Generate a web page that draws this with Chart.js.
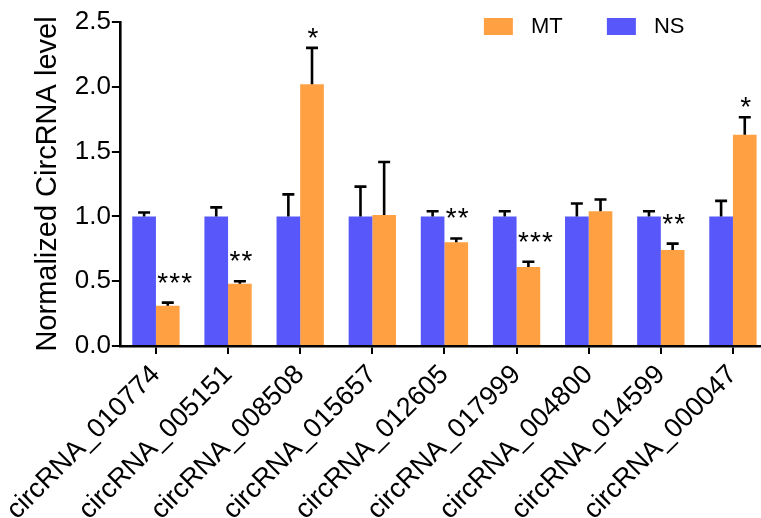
<!DOCTYPE html>
<html>
<head>
<meta charset="utf-8">
<script src="https://cdn.jsdelivr.net/npm/chart.js@4"></script>
<style>
  html, body { margin: 0; padding: 0; overflow: hidden; background: #fff; }
</style>
</head>
<body>
<canvas id="chart" width="770" height="518" style="width:770px;height:518px"></canvas>
<script>
var labels = ["circRNA_010774", "circRNA_005151", "circRNA_008508", "circRNA_015657", "circRNA_012605",
              "circRNA_017999", "circRNA_004800", "circRNA_014599", "circRNA_000047"]
var nsValues = [1.0, 1.0, 1.0, 1.0, 1.0, 1.0, 1.0, 1.0, 1.0]
var nsErrors = [0.03, 0.07, 0.17, 0.23, 0.04, 0.04, 0.10, 0.04, 0.12]
var mtValues = [0.31, 0.48, 2.02, 1.01, 0.80, 0.61, 1.04, 0.74, 1.63]
var mtErrors = [0.025, 0.02, 0.28, 0.41, 0.03, 0.04, 0.09, 0.05, 0.135]
var stars = ["***", "**", "*", "", "**", "***", "", "**", "*"]
var yTicks = [0, 0.5, 1.0, 1.5, 2.0, 2.5]

var font = '"Liberation Sans", Arial, sans-serif'

// error bars (upper only) and significance stars
var errorBars = {
  id: 'errorBars',
  afterDatasetsDraw(chart) {
    var ctx = chart.ctx
    var y = chart.scales.y
    ctx.save()
    ctx.strokeStyle = '#000'
    ctx.lineWidth = 2.6
    chart.data.datasets.forEach(function (ds, i) {
      var meta = chart.getDatasetMeta(i)
      meta.data.forEach(function (bar, j) {
        var top = y.getPixelForValue(ds.data[j] + ds.errors[j])
        ctx.beginPath()
        ctx.moveTo(bar.x, bar.y)
        ctx.lineTo(bar.x, top)
        ctx.moveTo(bar.x - 6, top)
        ctx.lineTo(bar.x + 6, top)
        ctx.stroke()
        if (ds.stars && ds.stars[j]) {
          ctx.fillStyle = '#000'
          ctx.font = '28px ' + font
          ctx.textBaseline = 'alphabetic'
          ctx.textAlign = 'center'
          var n = ds.stars[j].length
          var lift = n == 1 ? 1 : 11
          var shift = n == 3 ? 7 : 1
          for (var k = 0; k < n; k++) {
            ctx.fillText('*', bar.x + shift + (k - (n - 1) / 2) * 12, top - lift)
          }
        }
      })
    })
    ctx.restore()
  }
}

var legendBoxes = {
  id: 'legendBoxes',
  afterDraw(chart) {
    var ctx = chart.ctx
    var area = chart.chartArea
    var x = area.left + 364
    var y = area.top - 4
    ctx.save()
    ctx.font = '22px ' + font
    ctx.textBaseline = 'middle'
    ctx.textAlign = 'left'
    chart.data.datasets.slice().reverse().forEach(function (ds) {
      ctx.fillStyle = ds.backgroundColor
      ctx.fillRect(x, y, 29, 17)
      ctx.fillStyle = '#000'
      ctx.fillText(ds.label, x + 47, y + 9)
      x += 123
    })
    ctx.restore()
  }
}

var ctx = document.getElementById('chart').getContext('2d')

var myChart = new Chart(ctx, {
  type: 'bar',
  data: {
    labels: labels,
    datasets: [
      { label: 'NS', data: nsValues, errors: nsErrors, backgroundColor: '#5757FA' },
      { label: 'MT', data: mtValues, errors: mtErrors, stars: stars, backgroundColor: '#FFA042' }
    ]
  },
  options: {
    responsive: false,
    devicePixelRatio: 1,
    animation: false,
    layout: { padding: { top: 22, right: 1, left: 0, bottom: 0 } },
    datasets: { bar: { categoryPercentage: 0.656, barPercentage: 1.0 } },
    plugins: {
      legend: { display: false },
      tooltip: { enabled: false }
    },
    scales: {
      x: {
        offset: true,
        grid: { display: true, drawOnChartArea: false, drawTicks: true, tickLength: 8, color: '#000', lineWidth: 2, offset: false },
        border: { color: '#000', width: 2.6 },
        ticks: { color: '#000', font: { family: font, size: 27 }, minRotation: 45, maxRotation: 45, padding: 5, autoSkip: false },
        afterFit: function (s) { s.height = 172 }
      },
      y: {
        min: 0,
        max: 2.5,
        afterBuildTicks: function (s) { s.ticks = yTicks.map(function (v) { return { value: v } }) },
        grid: { display: true, drawOnChartArea: false, drawTicks: true, tickLength: 8, color: '#000', lineWidth: 2 },
        border: { color: '#000', width: 2.6 },
        ticks: { color: '#000', font: { family: font, size: 26 }, padding: 1, callback: function (v) { return v.toFixed(1) } },
        title: { display: true, text: 'Normalized CircRNA level', color: '#000', font: { family: font, size: 29 }, padding: { top: 30, bottom: 0 } },
        afterFit: function (s) { s.width = 119 }
      }
    }
  },
  plugins: [errorBars, legendBoxes]
})
</script>
</body>
</html>
